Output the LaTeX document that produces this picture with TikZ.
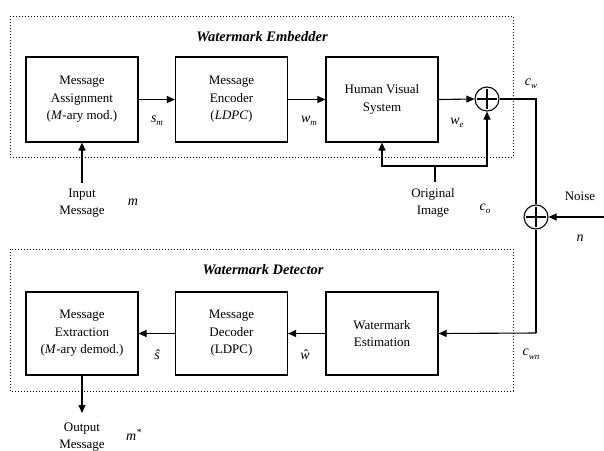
\documentclass[tikz,border=0pt]{standalone}
\usepackage{fontspec}
\setmainfont{Liberation Serif}
\usetikzlibrary{arrows.meta}
\begin{document}
\begin{tikzpicture}[x=1pt,y=-1pt,
  blk/.style={draw,line width=1.2pt,minimum width=112pt,minimum height=85pt,align=center,font=\fontsize{13}{17.5}\selectfont,inner sep=0pt},
  sumnode/.style={draw,line width=1.1pt,circle,minimum size=24pt,inner sep=0pt,
    path picture={\draw[line width=1.1pt] ([xshift=-10pt]path picture bounding box.center) -- ([xshift=10pt]path picture bounding box.center);
                  \draw[line width=1.1pt] ([yshift=-10pt]path picture bounding box.center) -- ([yshift=10pt]path picture bounding box.center);}},
  grp/.style={draw,line width=1pt,dotted},
  arr/.style={line width=1.1pt,-{Triangle[length=8pt,width=7pt]}},
  ln/.style={line width=1.1pt},
  lbl/.style={font=\fontsize{13}{17.5}\selectfont,align=center,inner sep=0pt},
  var/.style={font=\fontsize{14}{16}\selectfont\itshape,inner sep=0pt},
  ttl/.style={font=\fontsize{14.5}{16}\selectfont\bfseries\itshape,inner sep=0pt}]
\useasboundingbox (0,0) rectangle (604,450);
% group frames
\draw[grp] (10,16) rectangle (513,157);
\draw[grp] (10,249) rectangle (513,391);
\node[ttl] (t1) at (262,37) {Watermark Embedder};
\node[ttl] (t2) at (263,270) {Watermark Detector};
% embedder blocks
\node[blk] (b1) at (82,99.5) {Message\\Assignment\\(\textit{M}-ary mod.)};
\node[blk] (b2) at (231.5,99.5) {Message\\Encoder\\(\textit{LDPC})};
\node[blk] (b3) at (382,99.5) {Human Visual\\System};
\node[sumnode] (s1) at (487,99) {};
\node[sumnode] (s2) at (536,217) {};
% detector blocks
\node[blk,minimum height=83pt] (d1) at (82,333.5) {Message\\Extraction\\(\textit{M}-ary demod.)};
\node[blk,minimum height=83pt] (d2) at (231.5,333.5) {Message\\Decoder\\(LDPC)};
\node[blk,minimum height=83pt] (d3) at (382,333.5) {Watermark\\Estimation};
% helper coordinates
\coordinate (inp) at (82,183);
\coordinate (orig) at (435,182);
\coordinate (oj) at (435,166);
\coordinate (cwc) at (536,99);
\coordinate (noi) at (604,217);
\coordinate (cwn) at (536,333);
\coordinate (out) at (82,413);
% connectors
\draw[arr] (b1.east) -- (b2.west);
\draw[arr] (b2.east) -- (b3.west);
\draw[arr] (b3.east) -- (s1.west);
\draw[ln] (s1.east) -- (cwc) -- (s2.north);
\draw[arr] (noi) -- (s2.east);
\draw[ln] (s2.south) -- (cwn);
\draw[arr] (cwn) -- (d3.east);
\draw[arr] (d3.west) -- (d2.east);
\draw[arr] (d2.west) -- (d1.east);
\draw[arr] (d1.south) -- (out);
\draw[arr] (inp) -- (b1.south);
\draw[ln] (orig) -- (oj);
\draw[arr] (oj) -| (b3.south);
\draw[arr] (oj) -| (s1.south);
% labels
\node[var] (lsm) at (157,121) {s\raisebox{-0.5ex}{\fontsize{9}{10}\selectfont m}};
\node[var] (lwm) at (309,121) {w\raisebox{-0.5ex}{\fontsize{9}{10}\selectfont m}};
\node[var] (lwe) at (457,123) {w\raisebox{-0.5ex}{\fontsize{9}{10}\selectfont e}};
\node[var] (lcw) at (531,84) {c\raisebox{-0.5ex}{\fontsize{9}{10}\selectfont w}};
\node[var] (lco) at (485,209) {c\raisebox{-0.5ex}{\fontsize{9}{10}\selectfont o}};
\node[var] (lcwn) at (531,354) {c\raisebox{-0.6ex}{\fontsize{9}{10}\selectfont wn}};
\node[lbl] (linp) at (82,203) {Input\\Message};
\node[var] (lm) at (133,202) {m};
\node[lbl] (lorig) at (433,203) {Original\\Image};
\node[lbl] (lnoise) at (580,196) {Noise};
\node[var] (ln) at (580,238) {n};
\node[var] (lsh) at (157,355) {ŝ};
\node[var] (lwh) at (305,355) {ŵ};
\node[lbl] (lout) at (82,437) {Output\\Message};
\node[var] (lms) at (134,435) {m\textsuperscript{*}};
\end{tikzpicture}
\end{document}
